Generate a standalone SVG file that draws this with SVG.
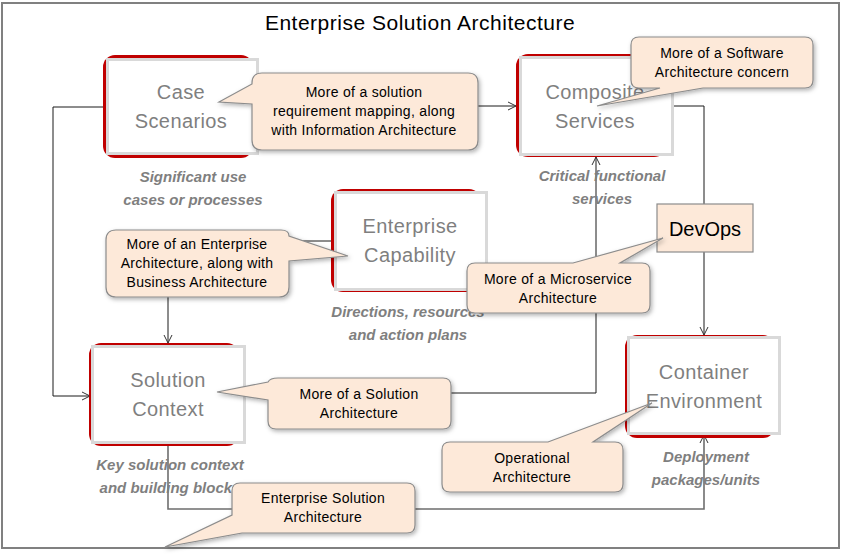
<svg xmlns="http://www.w3.org/2000/svg" width="842" height="556" viewBox="0 0 842 556">
<style>
.red{fill:#c00000}
.card{fill:#ffffff;stroke:#d9d9d9;stroke-width:3}
.nt{font-family:"Liberation Sans",Arial,sans-serif;font-size:20px;letter-spacing:0.4px;fill:#7f7f7f;text-anchor:middle}
.cap{font-family:"Liberation Sans",Arial,sans-serif;font-size:15px;font-style:italic;font-weight:bold;fill:#7f7f7f;text-anchor:middle}
.co{fill:#fde9d9;stroke:#8c8c8c;stroke-width:1.2;filter:url(#sh)}
.ct{font-family:"Liberation Sans",Arial,sans-serif;font-size:14px;letter-spacing:0.3px;fill:#000;text-anchor:middle}
.ln{fill:none;stroke:#1a1a1a;stroke-width:1}
.lg{fill:none;stroke:#6e6e6e;stroke-width:1.6}
</style>
<defs>
<marker id="ar" viewBox="0 0 10 10" refX="9" refY="5" markerWidth="10" markerHeight="10" markerUnits="userSpaceOnUse" orient="auto">
<path d="M1,1 L9,5 L1,9" fill="none" stroke="#333" stroke-width="1"/>
</marker>
<filter id="sh" x="-10%" y="-10%" width="125%" height="135%">
<feDropShadow dx="1.5" dy="2" stdDeviation="2" flood-color="#000" flood-opacity="0.3"/>
</filter>
</defs>
<rect x="2" y="3" width="837" height="545" fill="#fff" stroke="#808080" stroke-width="2"/>
<text x="420" y="30" font-family="'Liberation Sans',Arial,sans-serif" font-size="21" letter-spacing="0.5" text-anchor="middle" fill="#000">Enterprise Solution Architecture</text>

<g id="connectors">
<path class="ln" d="M258,106 H516" marker-end="url(#ar)" stroke="#555"/>
<path class="ln" d="M107,107 H53 V396 H90" marker-end="url(#ar)"/>
<path class="ln" d="M673,106 H704 V335" marker-end="url(#ar)"/>
<path class="ln" d="M331,241 H168 V343" marker-end="url(#ar)"/>
<path class="ln" d="M245,393 H596 V157" marker-end="url(#ar)"/>
<path class="lg" d="M168,443 V509 H704 V435" marker-end="url(#ar)"/>
</g>

<g id="case-scenarios">
<rect class="red" x="103" y="55" width="150" height="103" rx="12"/>
<rect class="card" x="107.5" y="59.5" width="150" height="94"/>
<text class="nt" x="181" y="99">Case</text>
<text class="nt" x="181" y="128">Scenarios</text>
<text class="cap" x="193" y="182">Significant use</text>
<text class="cap" x="193" y="205">cases or processes</text>
</g>

<g id="composite-services">
<rect class="red" x="516" y="54" width="150" height="103" rx="12"/>
<rect class="card" x="520.5" y="57.5" width="152" height="97"/>
<text class="nt" x="595" y="99">Composite</text>
<text class="nt" x="595" y="128">Services</text>
<text class="cap" x="602" y="181">Critical functional</text>
<text class="cap" x="602" y="204">services</text>
</g>

<g id="enterprise-capability">
<rect class="red" x="331" y="189" width="150" height="103" rx="12"/>
<rect class="card" x="335.5" y="192.5" width="151" height="97"/>
<text class="nt" x="410" y="233">Enterprise</text>
<text class="nt" x="410" y="262">Capability</text>
<text class="cap" x="408" y="317">Directions, resources</text>
<text class="cap" x="408" y="340">and action plans</text>
</g>

<g id="solution-context">
<rect class="red" x="89" y="343" width="150" height="103" rx="12"/>
<rect class="card" x="92.5" y="346.5" width="152" height="96"/>
<text class="nt" x="168" y="387">Solution</text>
<text class="nt" x="168" y="416">Context</text>
<text class="cap" x="170" y="470">Key solution context</text>
<text class="cap" x="170" y="493">and building blocks</text>
</g>

<g id="container-environment">
<rect class="red" x="625" y="335" width="150" height="103" rx="12"/>
<rect class="card" x="628.5" y="337.5" width="151" height="96"/>
<text class="nt" x="704" y="379">Container</text>
<text class="nt" x="704" y="408">Environment</text>
<text class="cap" x="706" y="462">Deployment</text>
<text class="cap" x="706" y="485">packages/units</text>
</g>

<g id="devops">
<rect x="657" y="204" width="96" height="48" fill="#fde9d9" stroke="#8c8c8c" stroke-width="1.2"/>
<text x="705" y="236" font-family="'Liberation Sans',Arial,sans-serif" font-size="20" text-anchor="middle" fill="#000">DevOps</text>
</g>

<g id="callout-solution-requirement">
<path class="co" d="M262,73 H468 Q478,73 478,83 V140 Q478,150 468,150 H262 Q252,150 252,140 V104 L219,102 L252,84 V83 Q252,73 262,73 Z"/>
<text class="ct" x="364" y="97">More of a solution</text>
<text class="ct" x="364" y="116">requirement mapping, along</text>
<text class="ct" x="364" y="135">with Information Architecture</text>
</g>

<g id="callout-software">
<path class="co" d="M639,37 H805 Q813,37 813,45 V80 Q813,88 805,88 H703 L597,106 L660,88 H639 Q631,88 631,80 V45 Q631,37 639,37 Z"/>
<text class="ct" x="722" y="58">More of a Software</text>
<text class="ct" x="722" y="77">Architecture concern</text>
</g>

<g id="callout-enterprise">
<path class="co" d="M116,230 H281 Q289,230 289,236 L348,256 L289,261 V287 Q289,297 279,297 H116 Q106,297 106,287 V240 Q106,230 116,230 Z"/>
<text class="ct" x="197" y="249">More of an Enterprise</text>
<text class="ct" x="197" y="268">Architecture, along with</text>
<text class="ct" x="197" y="287">Business Architecture</text>
</g>

<g id="callout-microservice">
<path class="co" d="M475,263 H573 L663,238 L620,263 H642 Q650,263 650,271 V305 Q650,313 642,313 H475 Q467,313 467,305 V271 Q467,263 475,263 Z"/>
<text class="ct" x="558" y="284">More of a Microservice</text>
<text class="ct" x="558" y="303">Architecture</text>
</g>

<g id="callout-solution">
<path class="co" d="M278,378 H443 Q451,378 451,386 V421 Q451,429 443,429 H276 Q268,429 268,421 V400 L217,392 L268,382 Q270,378 278,378 Z"/>
<text class="ct" x="359" y="399">More of a Solution</text>
<text class="ct" x="359" y="418">Architecture</text>
</g>

<g id="callout-operational">
<path class="co" d="M450,442 H548 L652,403 L593,442 H615 Q623,442 623,450 V484 Q623,492 615,492 H450 Q442,492 442,484 V450 Q442,442 450,442 Z"/>
<text class="ct" x="532" y="463">Operational</text>
<text class="ct" x="532" y="482">Architecture</text>
</g>

<g id="callout-esa">
<path class="co" d="M240,483 H407 Q415,483 415,491 V525 Q415,533 407,533 H242 L165,547 L232,515 V491 Q232,483 240,483 Z"/>
<text class="ct" x="323" y="503">Enterprise Solution</text>
<text class="ct" x="323" y="522">Architecture</text>
</g>
</svg>
